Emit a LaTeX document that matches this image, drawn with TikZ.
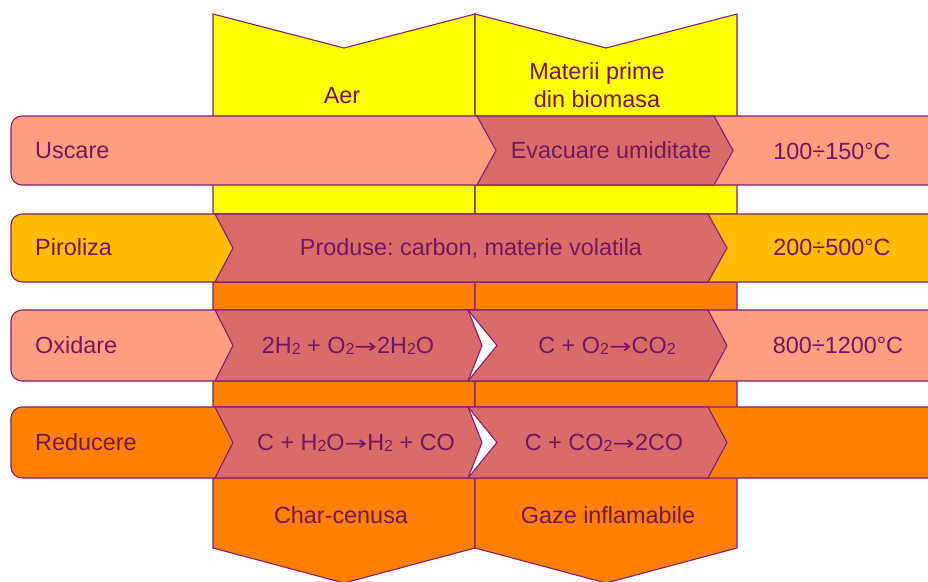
\documentclass[tikz,border=0pt]{standalone}
\usepackage{fontspec}
\setmainfont{Liberation Sans}
\newfontfamily\arrfont{DejaVu Sans}
\frenchspacing
\definecolor{ln}{RGB}{128,32,110}
\definecolor{tx}{RGB}{118,22,90}
\definecolor{salmon}{RGB}{255,158,128}
\definecolor{chev}{RGB}{217,107,107}
\definecolor{amber}{RGB}{255,187,0}
\definecolor{orng}{RGB}{255,128,0}
\definecolor{yel}{RGB}{255,255,0}
\newcommand\sbtwo{\raisebox{-1.2pt}{\fontsize{16}{16}\selectfont 2}}
\newcommand\rarr{\raisebox{-0.5pt}{\scalebox{1.35}[1]{\arrfont\fontsize{20}{20}\selectfont →}}}
\begin{document}
\begin{tikzpicture}[x=1pt,y=-1pt,
  shp/.style={draw=ln,line width=1.1pt,line join=miter},
  bar/.style={shp,rounded corners=11pt},
  lbl/.style={text=tx,font=\fontsize{23.4}{28}\selectfont,inner sep=0pt,text height=16.8pt,text depth=0pt},
  mlbl/.style={text=tx,font=\fontsize{23.4}{28}\selectfont,inner sep=0pt,align=center}]
\useasboundingbox (0,0) rectangle (928,581);
\clip (0,0) rectangle (928,581);
% columns
\path[shp,fill=yel] (213,14) -- (344,48) -- (475,14) -- (475,214) -- (213,214) -- cycle;
\path[shp,fill=yel] (475,14) -- (606,48) -- (737,14) -- (737,214) -- (475,214) -- cycle;
\path[shp,fill=orng] (213,282) -- (475,282) -- (475,548) -- (344,583) -- (213,548) -- cycle;
\path[shp,fill=orng] (475,282) -- (737,282) -- (737,548) -- (606,583) -- (475,548) -- cycle;
% bars
\path[bar,fill=salmon] (960,116) -- (11,116) -- (11,185) -- (960,185) -- cycle;
\path[bar,fill=amber] (960,214) -- (11,214) -- (11,282) -- (960,282) -- cycle;
\path[bar,fill=salmon] (960,310) -- (11,310) -- (11,381) -- (960,381) -- cycle;
\path[bar,fill=orng] (960,407) -- (11,407) -- (11,478) -- (960,478) -- cycle;
% chevrons row 1
\path[shp,fill=chev] (477,116) -- (714,116) -- (733,150.5) -- (714,185) -- (477,185) -- (496,150.5) -- cycle;
% row 2
\path[shp,fill=chev] (215,214) -- (708,214) -- (727,248) -- (708,282) -- (215,282) -- (233,248) -- cycle;
% row 3
\fill[white] (468,310) -- (497,345.5) -- (468,381) -- cycle;
\path[shp,fill=chev] (215,310) -- (468,310) -- (482,345.5) -- (468,381) -- (215,381) -- (233,345.5) -- cycle;
\path[shp,fill=chev] (468,310) -- (708,310) -- (727,345.5) -- (708,381) -- (468,381) -- (497,345.5) -- cycle;
% row 4
\fill[white] (468,407) -- (497,442.5) -- (468,478) -- cycle;
\path[shp,fill=chev] (215,407) -- (468,407) -- (482,442.5) -- (468,478) -- (215,478) -- (233,442.5) -- cycle;
\path[shp,fill=chev] (468,407) -- (708,407) -- (727,442.5) -- (708,478) -- (468,478) -- (497,442.5) -- cycle;
% texts
\node[lbl] (aer) at (342,95) {Aer};
\node[mlbl] (mat) at (597,85) {Materii prime\\din biomasa};
\node[lbl,anchor=west] (usc) at (35,150.5) {Uscare};
\node[lbl] (evac) at (611,150.5) {Evacuare umiditate};
\node[lbl] (t1) at (832,151.5) {100÷150°C};
\node[lbl,anchor=west] (pir) at (35,247) {Piroliza};
\node[lbl] (prod) at (471,247) {Produse: carbon, materie volatila};
\node[lbl] (t2) at (832,247) {200÷500°C};
\node[lbl,anchor=west] (oxi) at (35,345) {Oxidare};
\node[lbl] (r1) at (348,345) {2H\sbtwo{} + O\sbtwo\rarr2H\sbtwo O};
\node[lbl] (r2) at (607,345) {C + O\sbtwo\rarr CO\sbtwo};
\node[lbl] (t3) at (838,345) {800÷1200°C};
\node[lbl,anchor=west] (red) at (35,442) {Reducere};
\node[lbl] (r3) at (356,442) {C + H\sbtwo O\rarr H\sbtwo{} + CO};
\node[lbl] (r4) at (604,442) {C + CO\sbtwo\rarr2CO};
\node[lbl] (char) at (341,515) {Char-cenusa};
\node[lbl] (gaze) at (608,515) {Gaze inflamabile};
\end{tikzpicture}
\end{document}
